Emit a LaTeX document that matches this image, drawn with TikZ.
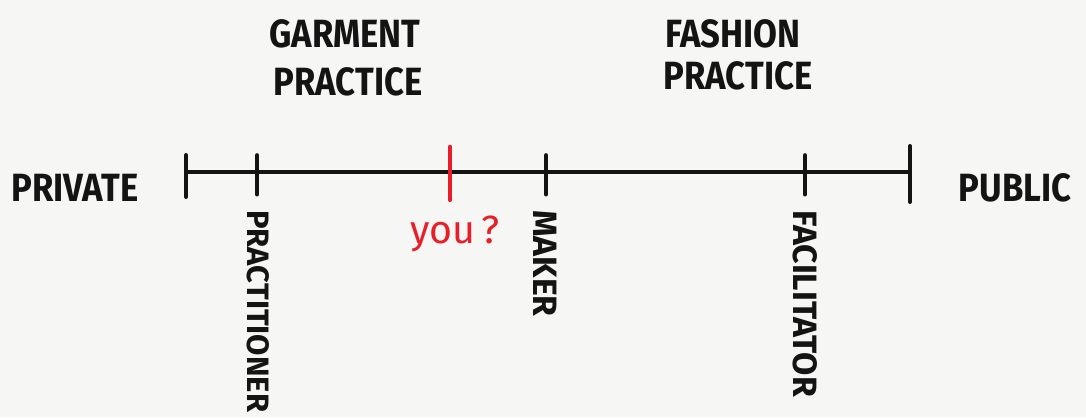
\documentclass[tikz,border=0pt]{standalone}
\usepackage{fontspec}
\setmainfont{Fira Sans}
\definecolor{paper}{RGB}{246,246,244}
\definecolor{pen}{RGB}{20,20,20}
\definecolor{redpen}{RGB}{232,30,40}
\newcommand{\hand}[1]{\scalebox{0.88}[1]{#1}}
\tikzset{
  big/.style={font=\fontsize{28}{30}\selectfont\bfseries, text=pen, inner sep=0pt},
  side/.style={font=\fontsize{24}{26}\selectfont\bfseries, text=pen, inner sep=0pt, rotate=-90, anchor=west},
  tick/.style={line width=2.8pt, pen, line cap=round}
}
\begin{document}
\begin{tikzpicture}[x=0.025cm, y=-0.025cm]
        % \draw[help lines, gray!50, very thin] (0,0) grid[step=100] (1086,417);
        \fill[paper] (0,0) rectangle (1086,417);
        \useasboundingbox (0,0) rectangle (1086,417);

        % scale ends
        \coordinate (lft) at (186,172);
        \coordinate (rgt) at (910,172);
        \draw[tick] (lft) -- (rgt);
        \draw[tick] (186,155) -- (186,197);
        \draw[tick] (910,146) -- (910,202);

        % marks
        \coordinate (prac) at (257,172);
        \coordinate (mak) at (546,172);
        \coordinate (fac) at (805,172);
        \foreach \m in {prac,mak,fac}
          \draw[tick] ([yshift=12]\m) -- ([yshift=-16]\m);
        \coordinate (you) at (450,172);
        \draw[tick, redpen] ([yshift=18]you) -- ([yshift=-20]you);

        \node[big] (priv) at (75,188) {\hand{PRIVATE}};
        \node[big] (pub) at (1015,188) {\hand{PUBLIC}};

        \node[big] (garm) at (345,34) {\hand{GARMENT}};
        \node[big] (garmp) at (348,82) {\hand{PRACTICE}};
        \node[big] (fash) at (733,34) {\hand{FASHION}};
        \node[big] (fashp) at (738,76) {\hand{PRACTICE}};

        \node[side, font=\fontsize{22}{24}\selectfont\bfseries] (pracl) at (258,210) {PRACTITIONER};
        \node[side] (makl) at (545,210) {MAKER};
        \node[side] (facl) at (805,210) {FACILITATOR};

        \node[font=\fontsize{28}{30}\selectfont, text=redpen, anchor=base, inner sep=0pt] (youl) at (455,243) {you\,?};
      \end{tikzpicture}
\end{document}
